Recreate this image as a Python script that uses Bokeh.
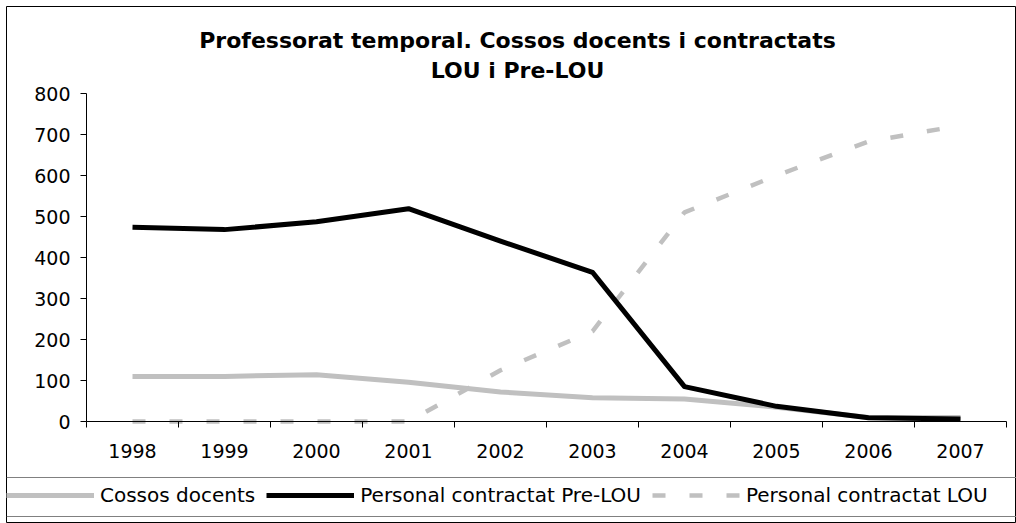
from bokeh.plotting import figure
from bokeh.models import Range1d, LinearAxis, FixedTicker, Legend, LegendItem, Label, Span
from bokeh.embed import file_html
from bokeh.resources import INLINE

# ---- data ----
years = [1998, 1999, 2000, 2001, 2002, 2003, 2004, 2005, 2006, 2007]
cossos_docents = [110, 110, 114, 96, 72, 58, 55, 35, 10, 10]
pre_lou = [474, 468, 487, 519, 440, 364, 85, 37, 9, 6]
lou = [0, 0, 0, 0, 125, 220, 510, 600, 683, 722]
y_ticks = [0, 100, 200, 300, 400, 500, 600, 700, 800]
series_names = ["Cossos docents", "Personal contractat Pre-LOU", "Personal contractat LOU"]
title_lines = ["Professorat temporal. Cossos docents i contractats", "LOU i Pre-LOU"]

# ---- layout (canvas pixels) ----
W, H = 1016, 523
FRAME_LEFT, FRAME_TOP = 6, 6
X_AXIS_LEFT_PX = 86      # canvas x of left category boundary
PX_PER_CAT = 92
Y_ZERO_PX = 421          # canvas y (from top) of value 0
PX_PER_UNIT = 0.41

x_lo = years[0] - 0.5
x0 = x_lo - (X_AXIS_LEFT_PX - FRAME_LEFT) / PX_PER_CAT
x1 = x0 + (W - FRAME_LEFT) / PX_PER_CAT
y1 = (Y_ZERO_PX - FRAME_TOP) / PX_PER_UNIT
y0 = -(H - Y_ZERO_PX) / PX_PER_UNIT

def xd(px):
    return x0 + (px - FRAME_LEFT) / PX_PER_CAT

def yd(py):
    return (Y_ZERO_PX - py) / PX_PER_UNIT

p = figure(width=W, height=H, x_range=Range1d(x0, x1), y_range=Range1d(y0, y1),
           output_backend="svg", toolbar_location=None,
           x_axis_location=None, y_axis_location=None, min_border=0,
           min_border_left=FRAME_LEFT, min_border_top=FRAME_TOP)
p.outline_line_color = "black"
p.outline_line_width = 1
p.background_fill_color = "white"
p.border_fill_color = "white"
p.grid.visible = False

FONT = "DejaVu Sans"

yaxis = LinearAxis(fixed_location=x_lo, bounds=(y_ticks[0], y_ticks[-1]),
                   ticker=FixedTicker(ticks=y_ticks, minor_ticks=[]),
                   major_tick_in=0, major_tick_out=6, minor_tick_in=0, minor_tick_out=0,
                   major_label_standoff=10, axis_line_color="black",
                   major_tick_line_color="black",
                   major_label_text_font=FONT, major_label_text_font_size="19px",
                   major_label_text_color="black")
p.add_layout(yaxis, "left")

boundaries = [y - 0.5 for y in years] + [years[-1] + 0.5]
xaxis = LinearAxis(fixed_location=0, bounds=(boundaries[0], boundaries[-1]),
                   ticker=FixedTicker(ticks=years, minor_ticks=boundaries),
                   major_tick_in=0, major_tick_out=0, minor_tick_in=0, minor_tick_out=6,
                   major_label_standoff=16, axis_line_color="black",
                   minor_tick_line_color="black",
                   major_label_text_font=FONT, major_label_text_font_size="19px",
                   major_label_text_color="black")
p.add_layout(xaxis, "below")

r1 = p.line(years, cossos_docents, line_color="#c0c0c0", line_width=5, line_join="round")
r3 = p.line(years, lou, line_color="#c0c0c0", line_width=4.5, line_dash="13 24")
r2 = p.line(years, pre_lou, line_color="black", line_width=5, line_join="round")

# title
for txt, py in zip(title_lines, [40, 70]):
    p.add_layout(Label(x=xd(517), y=yd(py), text=txt, text_align="center",
                       text_baseline="alphabetic", text_font=FONT,
                       text_font_style="bold", text_font_size="22px",
                       text_color="black"))

# legend box lines
for py in (477, 516):
    p.add_layout(Span(location=yd(py), dimension="width", line_color="#808080", line_width=1))

legend = Legend(items=[LegendItem(label=series_names[0], renderers=[r1]),
                       LegendItem(label=series_names[1], renderers=[r2]),
                       LegendItem(label=series_names[2], renderers=[r3])],
                orientation="horizontal", location=(0, 16), margin=0,
                padding=6, spacing=11, glyph_width=88, glyph_height=20,
                label_standoff=6, label_text_font=FONT, label_text_font_size="20px",
                label_text_color="black", border_line_color=None,
                background_fill_alpha=0)
p.add_layout(legend)

open("out.html", "w").write(file_html(p, INLINE))
